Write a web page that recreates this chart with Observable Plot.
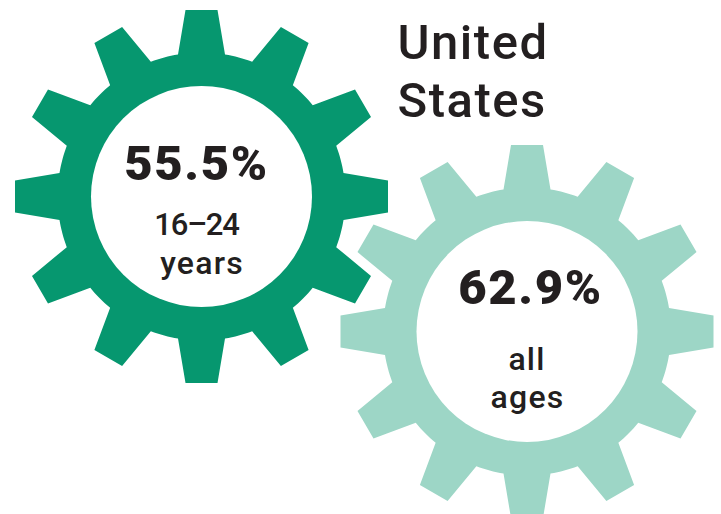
<!DOCTYPE html>
<html>
<head>
<meta charset="utf-8">
<script src="https://cdn.jsdelivr.net/npm/d3@7"></script>
<script src="https://cdn.jsdelivr.net/npm/@observablehq/plot@0.6"></script>
<style>
html,body{margin:0;padding:0;background:#fff}
svg{display:block}
.pct text{letter-spacing:1.6px}
.title text{letter-spacing:1.5px}
.num text{letter-spacing:-1.2px}
.word text{letter-spacing:1.2px}
</style>
</head>
<body>
<div id="chart"></div>
<script>
const groups = ["16–24 years", "all ages"];
const values = [55.5, 62.9];
const percentLabels = ["55.5%", "62.9%"];
const ageLines = [["16–24", "years"], ["all", "ages"]];
const titleLines = ["United", "States"];
const colors = ["#06976f", "#9dd6c6"];
const centersX = [201, 526.5];
const centersY = [196, 331];
const toothCount = 12;
const outerRadius = 186.5, rootY = 142, tipHalf = 16, baseHalf = 23.5, holeRadius = 110.5;

function gearOutline(g) {
  const cx = centersX[g], cy = centersY[g], pts = [];
  const rootR = Math.hypot(rootY, baseHalf), baseAng = Math.atan2(baseHalf, rootY);
  const rot = (u, v, a) => ({
    gear: groups[g],
    x: cx + u * Math.cos(a) + v * Math.sin(a),
    y: cy + u * Math.sin(a) - v * Math.cos(a)
  });
  for (let i = 0; i < toothCount; ++i) {
    const a = i * 2 * Math.PI / toothCount;
    pts.push(rot(-baseHalf, rootY, a), rot(-tipHalf, outerRadius, a), rot(tipHalf, outerRadius, a), rot(baseHalf, rootY, a));
    const start = a + baseAng, end = a + 2 * Math.PI / toothCount - baseAng;
    for (let s = 1; s < 8; ++s) {
      const t = start + (end - start) * s / 8;
      pts.push(rot(0, rootR, t));
    }
  }
  pts.push(pts[0]);
  return pts;
}

const outlines = groups.flatMap((_, g) => gearOutline(g));
const hubs = groups.map((name, g) => ({name, x: centersX[g], y: centersY[g], value: values[g]}));
const textFont = "Roboto, sans-serif";
const ink = "#231f20";

const percents = percentLabels.map((t, g) => ({t, x: [196, 530][g], y: [164, 288][g]}));
const nums = [{t: ageLines[0][0], x: 196, y: 225}];
const words = [
  {t: ageLines[0][1], x: 201.5, y: 263},
  {t: ageLines[1][0], x: 526.5, y: 359},
  {t: ageLines[1][1], x: 527, y: 397}
];
const titles = titleLines.map((t, i) => ({t, x: 397, y: [43, 101][i]}));

const plot = Plot.plot({
  width: 721,
  height: 514,
  margin: 0,
  x: {domain: [0, 721], range: [0, 721], axis: null},
  y: {domain: [0, 514], range: [0, 514], axis: null},
  marks: [
    Plot.line(outlines.filter(d => d.gear === groups[0]), {x: "x", y: "y", fill: colors[0], stroke: "none", curve: "linear"}),
    Plot.line(outlines.filter(d => d.gear === groups[1]), {x: "x", y: "y", fill: colors[1], stroke: "none", curve: "linear"}),
    Plot.dot(hubs, {x: "x", y: "y", r: holeRadius, fill: "#fff", stroke: "none"}),
    Plot.text(percents, {x: "x", y: "y", text: "t", className: "pct", fontFamily: textFont, fontWeight: 900, fontSize: 49, fill: ink, textAnchor: "middle", lineAnchor: "middle"}),
    Plot.text(nums, {x: "x", y: "y", text: "t", className: "num", fontFamily: textFont, fontWeight: 500, fontSize: 31, fill: ink, textAnchor: "middle", lineAnchor: "middle"}),
    Plot.text(words, {x: "x", y: "y", text: "t", className: "word", fontFamily: textFont, fontWeight: 500, fontSize: 32, fill: ink, textAnchor: "middle", lineAnchor: "middle"}),
    Plot.text(titles, {x: "x", y: "y", text: "t", className: "title", fontFamily: textFont, fontWeight: 500, fontSize: 49, fill: ink, textAnchor: "start", lineAnchor: "middle"})
  ]
});
document.getElementById("chart").append(plot);
</script>
</body>
</html>
